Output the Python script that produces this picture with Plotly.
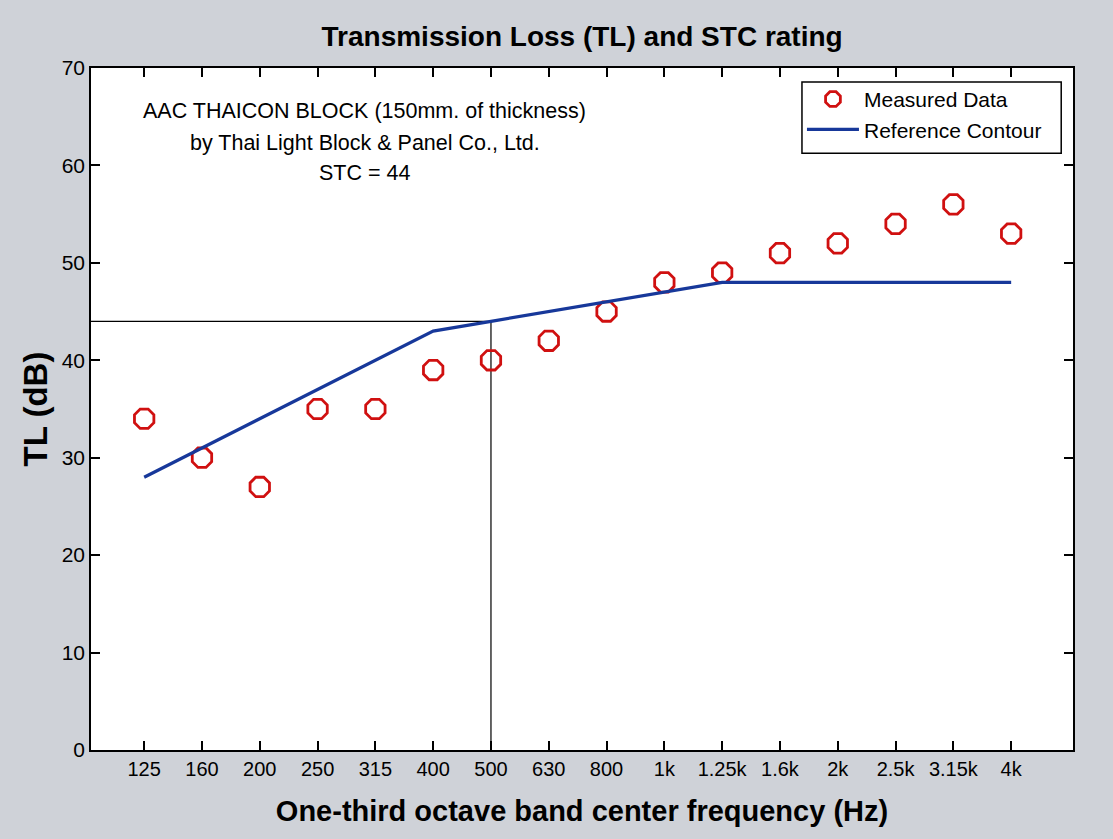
import plotly.graph_objects as go

freq_labels = ["125", "160", "200", "250", "315", "400", "500", "630", "800",
               "1k", "1.25k", "1.6k", "2k", "2.5k", "3.15k", "4k"]
measured_tl = [34, 30, 27, 35, 35, 39, 40, 42, 45, 48, 49, 51, 52, 54, 56, 53]
reference_contour = [28, 31, 34, 37, 40, 43, 44, 45, 46, 47, 48, 48, 48, 48, 48, 48]
stc_value = 44
stc_freq_index = 6  # 500 Hz
y_ticks = [0, 10, 20, 30, 40, 50, 60, 70]
note_lines = ["AAC THAICON BLOCK (150mm. of thickness)",
              "by Thai Light Block &amp; Panel Co., Ltd.",
              "STC = 44"]

idx = list(range(len(freq_labels)))
x_range = [-0.92, 16.07]

FONT = "Liberation Sans, Arial"

fig = go.Figure()

# STC guide lines
fig.add_trace(go.Scatter(x=[x_range[0], stc_freq_index, stc_freq_index],
                         y=[stc_value, stc_value, 0], mode="lines",
                         line=dict(color="black", width=1.2),
                         showlegend=False, hoverinfo="skip"))

fig.add_trace(go.Scatter(x=idx, y=measured_tl, mode="markers", name="Measured Data",
                         marker=dict(symbol="octagon-open", size=21,
                                     line=dict(color="#d01010", width=2.8),
                                     color="#d01010")))
fig.add_trace(go.Scatter(x=idx, y=reference_contour, mode="lines", name="Reference Contour",
                         line=dict(color="#17389a", width=3.2)))

note_y = [0.937, 0.890, 0.846]
annotations = [dict(x=0.279, y=yy, xref="paper", yref="paper", text=t,
                    showarrow=False, xanchor="center", yanchor="middle",
                    font=dict(family=FONT, size=21.5, color="black"))
               for t, yy in zip(note_lines, note_y)]

fig.update_layout(
    width=1113, height=839,
    paper_bgcolor="#cfd2d8", plot_bgcolor="white",
    margin=dict(l=91, r=40, t=68, b=89, autoexpand=False),
    title=dict(text="<b>Transmission Loss (TL) and STC rating</b>", x=0.523, xanchor="center",
               y=1 - 36/839, yanchor="middle",
               font=dict(family=FONT, size=28, color="black")),
    legend=dict(x=0.724, y=0.984, xanchor="left", yanchor="top",
                bgcolor="rgba(0,0,0,0)", borderwidth=0,
                font=dict(family=FONT, size=21, color="black"),
                tracegroupgap=0, itemwidth=52),
    shapes=[dict(type="rect", xref="paper", yref="paper",
                 x0=0.724, x1=0.988, y0=0.875, y1=0.9795,
                 line=dict(color="black", width=1.5), fillcolor="white", layer="below")],
    xaxis=dict(range=x_range, tickmode="array", tickvals=idx, ticktext=freq_labels,
               ticks="inside", ticklen=9, tickwidth=1.5, tickcolor="black",
               showline=True, linecolor="black", linewidth=1.5, mirror="ticks",
               showgrid=False, zeroline=False, automargin=False,
               tickfont=dict(family=FONT, size=20, color="black"),
               title=dict(text="<b>One-third octave band center frequency (Hz)</b>",
                          font=dict(family=FONT, size=29, color="black"), standoff=22)),
    yaxis=dict(range=[0, 70], tickmode="array", tickvals=y_ticks,
               ticks="inside", ticklen=9, tickwidth=1.5, tickcolor="black",
               showline=True, linecolor="black", linewidth=1.5, mirror="ticks",
               showgrid=False, zeroline=False, automargin=False,
               tickfont=dict(family=FONT, size=21, color="black"),
               title=dict(text="<b>TL (dB)</b>",
                          font=dict(family=FONT, size=33, color="black"), standoff=4)),
    annotations=annotations,
)

fig.write_html("out.html", config={"displayModeBar": False},
               post_script="document.body.style.margin='0';")
